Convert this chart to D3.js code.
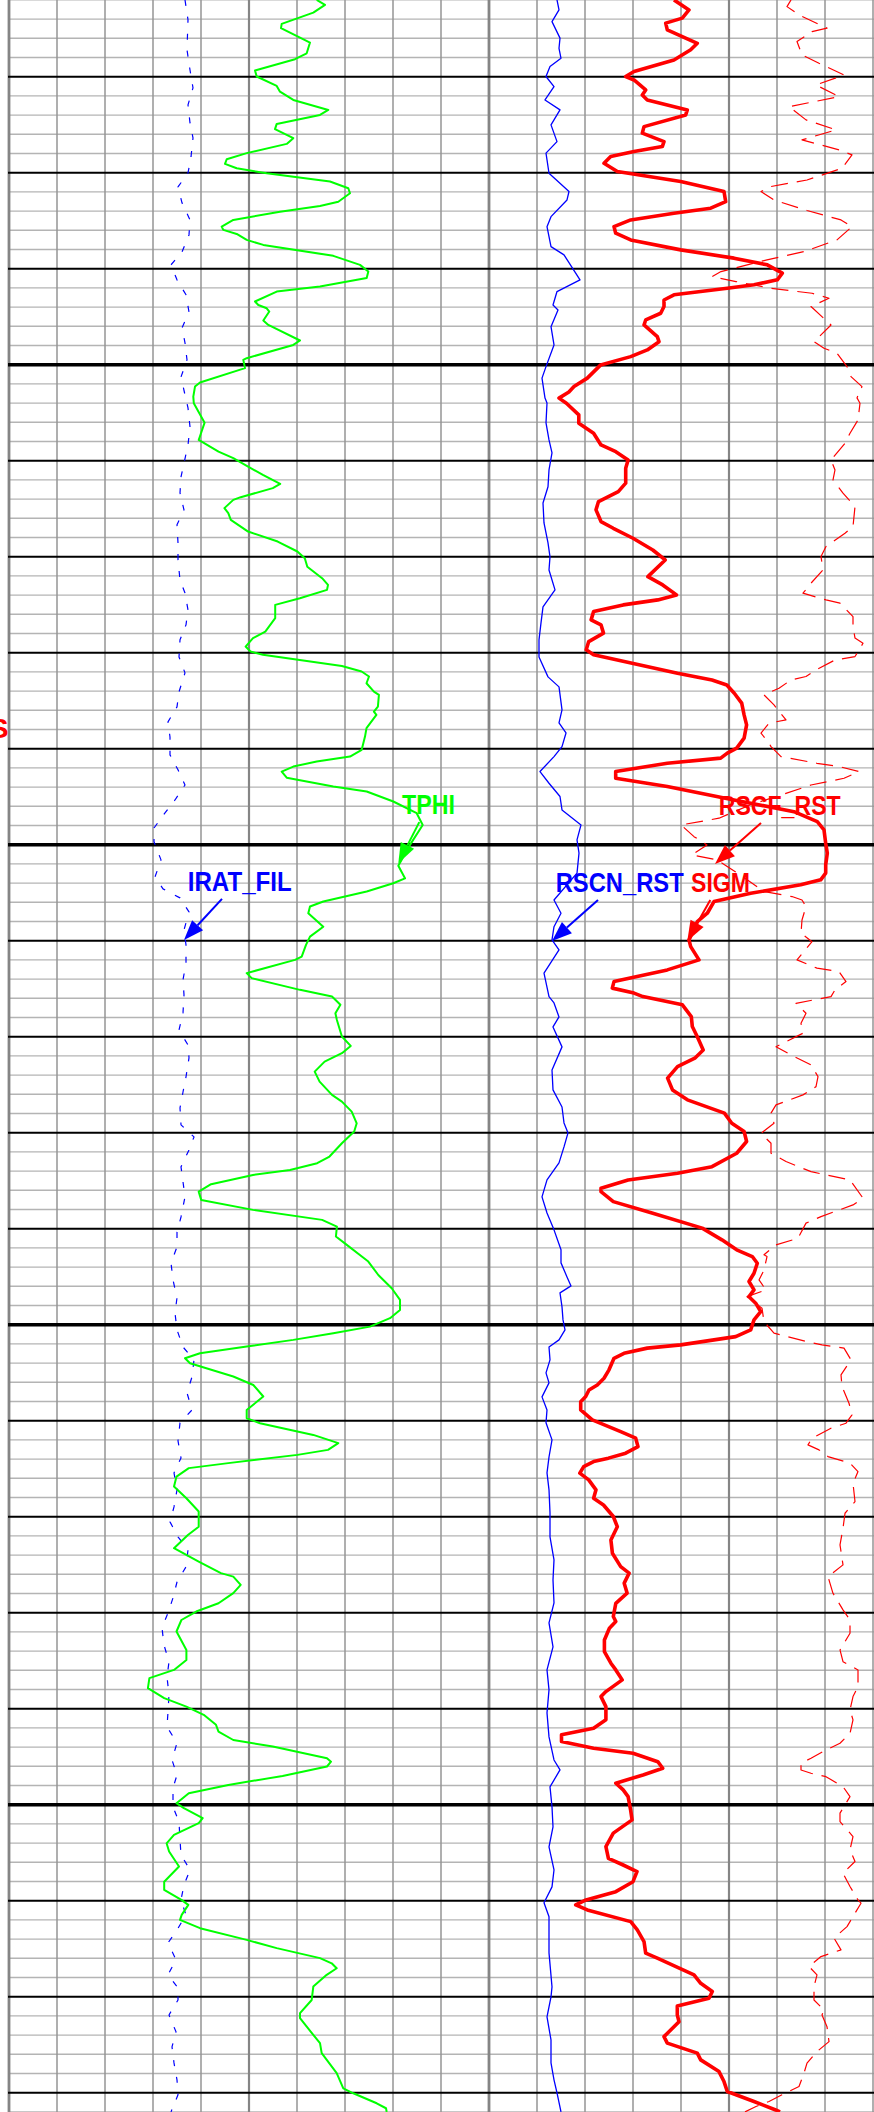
<!DOCTYPE html>
<html><head><meta charset="utf-8">
<script src="https://cdn.jsdelivr.net/npm/d3@7"></script>
<style>html,body{margin:0;padding:0;background:#fff;}svg{display:block;}</style>
</head><body>
<script>
// ---------- data ----------
const DEPTH_TOP = 2106, DEPTH_BOTTOM = 2216;
const LEFT_DIVS = d3.range(0, 11);   // grid divisions, left track
const RIGHT_DIVS = d3.range(0, 11);  // grid divisions, right track

// TPHI (p.u.), left track 0..48
const tphi = [[2106.00,30.77],[2106.26,31.60],[2106.66,30.43],[2107.25,27.27],[2107.47,27.20],[2108.22,30.10],[2108.78,29.77],[2109.09,28.60],[2109.68,24.60],[2109.99,24.77],[2110.48,26.77],[2110.78,27.10],[2111.21,28.43],[2111.73,31.93],[2111.99,31.10],[2112.46,26.77],[2112.73,26.60],[2113.20,28.43],[2113.50,27.77],[2113.98,23.77],[2114.30,21.77],[2114.54,21.60],[2114.77,22.77],[2115.03,25.77],[2115.46,32.10],[2115.81,33.93],[2116.07,34.10],[2116.51,32.93],[2116.73,31.10],[2117.03,27.10],[2117.46,22.43],[2117.81,21.27],[2117.98,21.43],[2118.19,22.77],[2118.50,23.77],[2118.76,25.43],[2119.33,32.43],[2119.80,35.10],[2120.15,35.93],[2120.49,35.77],[2120.93,31.10],[2121.19,26.77],[2121.71,24.60],[2121.89,24.93],[2122.06,25.77],[2122.23,26.03],[2122.70,25.43],[2122.93,25.93],[2123.74,29.10],[2123.97,28.43],[2124.66,23.77],[2124.75,23.43],[2125.18,23.60],[2125.93,19.10],[2126.14,18.60],[2126.66,18.43],[2127.01,18.48],[2128.02,19.56],[2128.92,18.97],[2129.53,20.95],[2129.87,22.43],[2130.31,23.91],[2130.74,25.39],[2131.21,27.12],[2131.43,26.38],[2131.90,23.17],[2132.04,22.43],[2132.47,21.54],[2132.73,21.93],[2133.08,22.18],[2133.69,23.91],[2134.21,26.87],[2134.73,28.84],[2135.08,29.58],[2135.52,29.83],[2136.12,31.31],[2136.47,31.90],[2136.73,31.80],[2137.16,29.09],[2137.51,26.62],[2138.20,26.62],[2138.90,25.63],[2139.24,24.40],[2139.68,23.66],[2139.94,24.15],[2140.11,25.39],[2140.69,33.29],[2140.98,35.26],[2141.24,36.00],[2141.59,35.75],[2142.03,36.49],[2142.20,36.99],[2142.81,36.89],[2143.07,36.49],[2143.24,36.74],[2143.93,35.75],[2144.37,35.60],[2145.06,35.27],[2145.41,34.10],[2145.67,30.77],[2145.93,28.43],[2146.19,27.27],[2146.51,27.77],[2146.97,32.43],[2147.23,35.77],[2147.75,38.43],[2148.36,40.77],[2148.97,41.37],[2150.01,40.10],[2151.10,38.93],[2151.75,39.60],[2152.01,38.43],[2152.44,35.77],[2152.96,31.43],[2153.22,30.10],[2153.57,29.93],[2154.27,31.43],[2154.79,30.10],[2155.22,29.70],[2155.83,29.27],[2156.00,28.60],[2156.69,23.77],[2156.95,24.27],[2157.56,29.10],[2157.91,32.30],[2158.34,33.14],[2158.78,32.64],[2159.13,32.79],[2159.99,33.29],[2160.48,34.17],[2160.86,33.29],[2161.30,31.56],[2161.82,30.57],[2162.34,31.06],[2163.03,32.30],[2163.38,33.29],[2163.90,34.27],[2164.51,34.77],[2164.94,34.52],[2165.55,33.29],[2166.24,32.05],[2166.59,30.82],[2166.94,28.10],[2167.20,24.40],[2167.68,20.21],[2168.07,18.97],[2168.50,19.22],[2169.02,24.40],[2169.54,31.31],[2169.89,32.79],[2170.41,32.69],[2170.84,33.78],[2171.54,35.51],[2171.71,35.93],[2172.41,36.93],[2173.10,38.27],[2173.71,39.10],[2174.23,39.10],[2174.66,38.10],[2175.10,36.10],[2175.44,32.43],[2175.79,28.43],[2176.14,23.77],[2176.49,19.10],[2176.75,17.60],[2177.01,18.10],[2177.70,22.43],[2178.14,24.43],[2178.74,25.43],[2179.44,23.77],[2179.87,23.77],[2180.13,25.10],[2180.74,30.43],[2181.17,32.93],[2181.52,31.90],[2181.78,28.84],[2182.21,21.93],[2182.47,17.98],[2182.91,16.75],[2183.43,16.50],[2184.04,17.74],[2184.73,18.97],[2185.52,18.97],[2185.95,17.89],[2186.64,16.50],[2187.34,18.97],[2187.94,21.19],[2188.12,22.43],[2188.55,23.17],[2188.98,22.43],[2189.51,20.95],[2189.94,18.72],[2190.38,17.24],[2190.98,16.75],[2191.94,17.74],[2192.46,17.74],[2192.98,16.50],[2193.41,14.04],[2193.93,13.89],[2194.45,15.52],[2194.89,17.74],[2195.32,19.47],[2195.84,20.70],[2196.19,20.95],[2196.63,22.43],[2196.97,26.38],[2197.58,31.80],[2197.76,32.20],[2198.01,31.80],[2198.50,27.36],[2198.97,21.93],[2199.40,17.98],[2199.92,16.75],[2200.18,17.49],[2200.70,19.37],[2200.96,18.97],[2201.57,16.50],[2202.01,15.76],[2202.44,16.01],[2203.22,17.00],[2204.01,15.52],[2204.44,15.52],[2204.96,17.24],[2205.22,17.93],[2205.74,17.27],[2206.00,17.10],[2206.43,19.10],[2207.04,23.77],[2207.47,26.77],[2207.99,31.10],[2208.26,32.27],[2208.52,32.77],[2208.86,31.77],[2209.47,30.43],[2210.17,30.27],[2210.86,29.10],[2211.12,29.10],[2211.99,30.43],[2212.42,31.10],[2212.94,31.27],[2213.98,32.77],[2214.77,33.43],[2215.03,34.43],[2215.55,36.77],[2215.81,37.70],[2216.00,37.77]];

// IRAT_FIL (ratio), left track 0..4.8
const iratFil = [[2106.00,1.76],[2107.04,1.79],[2108.60,1.78],[2109.65,1.81],[2110.58,1.84],[2111.47,1.79],[2112.41,1.81],[2113.19,1.84],[2114.18,1.82],[2115.01,1.79],[2115.74,1.69],[2116.57,1.73],[2117.46,1.81],[2118.24,1.80],[2119.13,1.73],[2119.80,1.62],[2120.58,1.68],[2121.36,1.77],[2122.25,1.80],[2123.08,1.73],[2123.86,1.76],[2124.75,1.78],[2125.64,1.72],[2126.57,1.76],[2127.25,1.79],[2128.24,1.81],[2129.18,1.79],[2130.84,1.72],[2131.68,1.71],[2132.56,1.75],[2133.34,1.68],[2134.28,1.69],[2135.17,1.69],[2136.21,1.71],[2136.89,1.76],[2137.77,1.79],[2138.55,1.77],[2139.33,1.71],[2140.22,1.70],[2141.05,1.76],[2142.04,1.70],[2142.82,1.68],[2143.60,1.59],[2144.39,1.61],[2145.32,1.61],[2146.10,1.69],[2146.89,1.76],[2147.67,1.66],[2148.34,1.56],[2149.13,1.45],[2149.85,1.45],[2150.79,1.52],[2151.68,1.46],[2152.30,1.54],[2152.77,1.71],[2153.50,1.80],[2154.44,1.75],[2155.22,1.77],[2156.16,1.77],[2157.04,1.74],[2157.82,1.75],[2158.76,1.74],[2159.65,1.70],[2160.43,1.79],[2161.10,1.80],[2162.09,1.77],[2162.88,1.74],[2163.71,1.71],[2164.59,1.72],[2165.22,1.85],[2165.90,1.80],[2166.78,1.72],[2167.56,1.74],[2168.34,1.76],[2169.39,1.72],[2170.17,1.68],[2170.95,1.68],[2171.78,1.62],[2172.67,1.64],[2173.60,1.68],[2174.39,1.66],[2175.27,1.68],[2176.16,1.74],[2176.83,1.85],[2177.72,1.83],[2178.55,1.78],[2179.44,1.83],[2180.11,1.71],[2181.05,1.69],[2181.94,1.72],[2182.72,1.65],[2183.60,1.68],[2184.49,1.65],[2185.27,1.61],[2186.05,1.69],[2186.73,1.79],[2187.61,1.77],[2188.40,1.68],[2189.23,1.64],[2190.01,1.59],[2190.79,1.53],[2191.68,1.55],[2192.56,1.60],[2193.34,1.58],[2194.28,1.60],[2195.17,1.59],[2195.95,1.58],[2196.78,1.68],[2197.67,1.63],[2198.45,1.68],[2199.13,1.64],[2200.11,1.64],[2200.90,1.70],[2201.83,1.71],[2202.61,1.72],[2203.40,1.81],[2204.18,1.75],[2204.96,1.72],[2205.74,1.77],[2206.52,1.68],[2207.20,1.59],[2208.08,1.67],[2208.86,1.59],[2209.54,1.69],[2210.17,1.69],[2210.95,1.60],[2211.83,1.67],[2212.61,1.63],[2213.45,1.65],[2214.33,1.68],[2215.11,1.69],[2216.00,1.62]];

// RSCN_RST (kHz), right track 0..4.8
const rscnRst = [[2106.00,0.68],[2106.52,0.70],[2107.13,0.63],[2107.99,0.71],[2108.52,0.70],[2109.04,0.72],[2109.47,0.61],[2109.99,0.57],[2110.52,0.65],[2111.21,0.56],[2111.73,0.71],[2112.51,0.62],[2113.38,0.68],[2113.98,0.57],[2115.03,0.60],[2115.98,0.80],[2116.42,0.78],[2117.29,0.62],[2117.81,0.58],[2118.85,0.62],[2119.28,0.75],[2120.58,0.91],[2121.19,0.68],[2121.89,0.64],[2122.15,0.69],[2123.02,0.62],[2123.97,0.65],[2125.10,0.57],[2125.70,0.53],[2126.74,0.56],[2126.99,0.58],[2128.03,0.57],[2128.92,0.60],[2129.59,0.63],[2130.48,0.60],[2131.36,0.59],[2132.20,0.54],[2133.24,0.55],[2134.28,0.59],[2135.01,0.61],[2135.69,0.60],[2136.73,0.66],[2137.61,0.54],[2138.45,0.52],[2139.33,0.50],[2140.22,0.50],[2141.26,0.59],[2141.78,0.70],[2142.98,0.73],[2143.66,0.70],[2144.18,0.77],[2144.89,0.73],[2145.41,0.65],[2146.19,0.51],[2146.80,0.60],[2147.49,0.71],[2148.19,0.73],[2148.97,0.92],[2149.75,0.88],[2150.44,0.90],[2151.48,0.88],[2152.88,0.65],[2153.57,0.72],[2154.27,0.65],[2154.96,0.63],[2155.48,0.70],[2156.69,0.55],[2157.91,0.60],[2158.24,0.65],[2158.97,0.70],[2159.49,0.64],[2160.53,0.73],[2161.73,0.63],[2162.77,0.64],[2163.66,0.73],[2164.49,0.75],[2165.01,0.79],[2165.74,0.75],[2166.57,0.70],[2167.46,0.58],[2168.34,0.53],[2169.18,0.58],[2170.06,0.65],[2171.10,0.72],[2171.78,0.72],[2172.51,0.78],[2172.98,0.82],[2173.34,0.71],[2174.07,0.73],[2174.75,0.74],[2175.27,0.76],[2175.79,0.70],[2176.16,0.60],[2176.83,0.61],[2177.51,0.57],[2178.03,0.60],[2178.76,0.53],[2179.44,0.58],[2180.11,0.57],[2181.00,0.63],[2181.89,0.60],[2182.72,0.58],[2183.60,0.60],[2184.80,0.61],[2186.05,0.61],[2187.25,0.65],[2188.29,0.64],[2189.49,0.65],[2190.53,0.60],[2191.78,0.64],[2192.98,0.58],[2194.02,0.60],[2195.22,0.58],[2196.47,0.60],[2197.67,0.65],[2198.19,0.71],[2199.07,0.61],[2200.11,0.63],[2201.16,0.64],[2202.20,0.60],[2203.40,0.65],[2204.28,0.63],[2205.11,0.55],[2205.84,0.60],[2206.68,0.60],[2207.72,0.60],[2209.49,0.63],[2210.01,0.62],[2211.05,0.58],[2212.25,0.62],[2213.45,0.62],[2214.33,0.65],[2215.01,0.68],[2216.00,0.72]];

// SIGM (c.u.), right track 0..48
const sigm = [[2106.00,18.50],[2106.52,20.00],[2106.95,19.33],[2107.21,17.67],[2107.56,17.83],[2107.91,19.33],[2108.26,20.83],[2108.60,20.17],[2109.13,18.50],[2109.73,14.50],[2109.99,13.67],[2110.17,14.50],[2110.69,15.67],[2110.95,15.33],[2111.21,15.83],[2111.73,19.83],[2111.99,19.67],[2112.60,15.50],[2112.94,15.33],[2113.38,17.50],[2113.64,17.33],[2113.90,14.50],[2114.16,12.17],[2114.51,11.50],[2114.94,12.83],[2115.46,19.17],[2115.98,23.50],[2116.51,23.67],[2116.85,22.17],[2117.11,18.50],[2117.46,14.17],[2117.81,12.50],[2118.15,12.67],[2118.50,14.17],[2119.02,19.17],[2119.45,24.50],[2119.80,27.83],[2120.23,29.33],[2120.58,28.83],[2120.84,26.50],[2121.02,23.83],[2121.36,18.50],[2121.63,17.50],[2121.97,17.50],[2122.32,17.17],[2122.67,15.67],[2122.93,15.50],[2123.54,16.83],[2123.80,17.00],[2124.23,15.83],[2124.58,14.17],[2125.01,11.17],[2125.70,9.83],[2126.14,8.50],[2126.42,7.99],[2126.74,7.00],[2127.01,7.74],[2127.61,8.98],[2128.05,8.98],[2128.57,10.46],[2129.18,11.20],[2129.53,12.68],[2129.96,13.91],[2130.39,13.67],[2131.17,13.67],[2131.61,12.93],[2132.13,10.95],[2132.56,10.70],[2133.17,11.20],[2133.52,12.43],[2134.04,14.40],[2134.65,16.38],[2135.17,17.62],[2136.04,15.89],[2136.47,17.37],[2136.99,18.75],[2137.25,16.88],[2137.51,13.42],[2137.86,10.46],[2138.29,10.21],[2138.55,11.20],[2138.98,11.45],[2139.42,9.97],[2139.85,9.72],[2140.11,10.46],[2141.07,18.85],[2141.42,22.30],[2141.68,23.78],[2142.11,24.53],[2142.63,25.27],[2143.24,25.51],[2143.76,25.76],[2144.45,25.51],[2144.97,24.77],[2145.23,23.83],[2145.49,23.17],[2145.76,17.83],[2146.19,12.67],[2146.54,12.67],[2146.97,17.83],[2147.67,24.50],[2148.28,30.50],[2148.80,32.83],[2149.23,33.50],[2149.92,33.67],[2150.44,33.83],[2151.05,33.67],[2151.48,33.67],[2151.83,33.17],[2152.09,31.17],[2152.53,26.17],[2152.96,22.50],[2153.57,21.83],[2154.01,20.83],[2154.96,20.00],[2155.31,20.17],[2156.00,21.00],[2156.52,17.83],[2157.13,12.50],[2157.47,12.33],[2157.73,14.50],[2157.91,15.39],[2158.34,19.34],[2158.95,20.23],[2159.47,20.33],[2159.99,20.82],[2160.69,21.42],[2161.12,20.58],[2161.56,18.85],[2162.16,17.86],[2162.77,18.35],[2163.29,19.84],[2163.98,23.54],[2164.51,24.28],[2164.94,25.51],[2165.46,25.76],[2166.07,24.77],[2166.77,22.30],[2167.11,18.85],[2167.46,13.91],[2167.89,11.20],[2168.07,11.20],[2168.59,12.43],[2169.19,16.38],[2169.97,21.32],[2170.58,23.29],[2171.10,24.77],[2171.45,26.33],[2171.80,26.83],[2172.32,26.50],[2172.75,26.00],[2173.19,26.50],[2173.54,26.00],[2173.88,26.67],[2174.32,27.17],[2174.75,26.50],[2175.27,26.17],[2175.62,24.67],[2176.05,19.17],[2176.22,15.83],[2176.49,13.50],[2176.75,12.50],[2177.35,12.00],[2177.79,11.50],[2178.14,10.83],[2178.40,10.00],[2178.74,9.67],[2179.01,9.17],[2179.44,9.17],[2179.96,10.33],[2180.57,13.17],[2180.91,14.67],[2181.35,14.90],[2181.69,13.67],[2181.95,11.94],[2182.13,10.46],[2182.39,9.47],[2182.73,9.08],[2183.08,9.97],[2183.60,10.70],[2184.04,10.46],[2184.39,11.45],[2184.99,12.43],[2185.52,12.83],[2186.21,12.19],[2186.90,12.34],[2187.60,13.17],[2187.94,14.01],[2188.46,13.52],[2188.98,13.81],[2189.51,12.68],[2190.20,12.43],[2190.46,12.68],[2190.81,12.04],[2191.42,11.54],[2192.03,11.54],[2192.63,12.19],[2192.98,12.68],[2193.50,13.32],[2194.11,11.69],[2194.37,11.20],[2194.89,11.69],[2195.58,11.69],[2196.02,10.46],[2196.36,7.25],[2196.71,7.25],[2197.06,10.46],[2197.32,14.40],[2197.76,16.88],[2198.10,17.37],[2198.45,15.40],[2198.88,12.68],[2199.23,13.42],[2199.58,13.91],[2200.27,14.16],[2200.79,14.31],[2201.48,12.43],[2202.18,11.69],[2202.79,11.94],[2203.14,13.42],[2203.48,14.80],[2204.01,14.40],[2204.53,12.68],[2204.96,9.70],[2205.22,8.67],[2205.48,9.83],[2206.09,14.17],[2206.52,14.83],[2207.13,15.50],[2207.73,15.67],[2207.99,16.83],[2208.86,20.50],[2209.30,21.17],[2209.73,22.33],[2210.08,22.00],[2210.48,18.83],[2210.95,18.83],[2211.30,19.00],[2212.08,17.50],[2212.42,17.83],[2212.94,20.83],[2213.29,21.17],[2213.90,23.00],[2214.42,23.50],[2214.94,23.83],[2215.46,26.50],[2215.90,28.67],[2216.00,29.10]];

// RSCF_RST (kHz), right track 0..4.8
const rscfRst = [[2106.00,3.02],[2106.35,2.98],[2106.78,3.10],[2107.47,3.38],[2107.65,3.23],[2108.17,3.08],[2108.86,3.13],[2109.30,3.30],[2109.91,3.55],[2110.43,3.27],[2111.04,3.50],[2111.56,3.00],[2112.25,3.17],[2112.77,3.47],[2113.29,3.13],[2113.81,3.50],[2114.07,3.63],[2114.77,3.53],[2115.38,3.18],[2115.72,2.82],[2115.98,2.72],[2116.42,2.85],[2116.97,3.18],[2117.46,3.52],[2117.81,3.63],[2118.50,3.48],[2119.11,3.15],[2119.54,2.78],[2120.15,2.32],[2120.41,2.23],[2120.67,2.47],[2121.02,2.82],[2121.28,3.23],[2121.54,3.40],[2121.97,3.22],[2122.93,3.42],[2123.80,3.25],[2124.14,3.35],[2124.40,3.48],[2125.10,3.58],[2125.62,3.62],[2126.14,3.73],[2126.73,3.68],[2127.01,3.71],[2127.88,3.69],[2128.57,3.61],[2129.09,3.56],[2129.96,3.42],[2130.48,3.46],[2131.00,3.44],[2131.69,3.54],[2132.39,3.66],[2133.43,3.64],[2133.78,3.56],[2134.47,3.37],[2134.99,3.32],[2135.69,3.34],[2136.38,3.22],[2136.90,3.14],[2137.25,3.37],[2137.42,3.51],[2138.12,3.64],[2138.64,3.64],[2139.24,3.66],[2139.51,3.74],[2140.20,3.66],[2140.38,3.46],[2140.90,3.27],[2141.24,3.17],[2141.42,3.02],[2141.85,2.90],[2142.20,2.75],[2142.72,2.85],[2143.50,2.97],[2143.67,2.80],[2144.19,2.72],[2144.71,2.80],[2144.89,2.82],[2145.41,2.92],[2145.76,3.28],[2145.93,3.50],[2146.19,3.70],[2146.54,3.55],[2146.89,3.22],[2147.41,2.92],[2147.93,2.61],[2148.62,2.30],[2148.97,1.92],[2149.58,2.05],[2150.01,2.18],[2150.53,2.03],[2150.79,2.28],[2151.57,2.51],[2152.44,2.75],[2152.70,3.03],[2152.88,3.13],[2153.22,3.17],[2153.92,3.13],[2154.61,3.12],[2155.05,3.23],[2156.00,3.08],[2156.43,3.28],[2156.61,3.50],[2157.13,3.57],[2157.56,3.46],[2157.91,3.42],[2158.26,3.07],[2158.78,3.17],[2159.30,3.12],[2159.82,3.14],[2160.52,2.87],[2160.95,3.02],[2161.47,3.22],[2162.08,3.29],[2162.60,3.27],[2163.03,3.14],[2163.55,2.87],[2163.98,2.82],[2164.51,2.85],[2165.03,2.72],[2165.55,2.82],[2166.07,2.82],[2166.50,2.97],[2167.03,3.22],[2167.46,3.61],[2168.41,3.74],[2168.76,3.64],[2169.37,3.32],[2169.71,3.17],[2170.50,3.09],[2170.84,2.87],[2171.36,2.75],[2171.45,2.78],[2172.15,2.75],[2172.67,2.70],[2173.19,2.77],[2173.54,2.58],[2174.14,2.73],[2174.84,2.75],[2175.44,2.85],[2175.62,2.98],[2175.88,3.18],[2176.05,3.33],[2176.22,3.55],[2176.83,3.62],[2177.61,3.52],[2178.22,3.53],[2179.09,3.60],[2179.70,3.63],[2180.13,3.57],[2180.39,3.42],[2180.91,3.23],[2181.26,3.19],[2181.52,3.30],[2181.87,3.39],[2182.21,3.61],[2182.65,3.69],[2183.26,3.64],[2184.21,3.66],[2184.82,3.56],[2185.60,3.54],[2186.47,3.51],[2187.51,3.54],[2188.12,3.39],[2188.99,3.44],[2189.85,3.54],[2190.38,3.61],[2191.07,3.61],[2191.94,3.51],[2192.55,3.54],[2192.98,3.69],[2193.85,3.69],[2194.37,3.64],[2195.06,3.61],[2195.58,3.64],[2196.28,3.61],[2196.80,3.51],[2197.15,3.37],[2197.58,3.22],[2197.84,3.12],[2198.19,3.12],[2198.36,3.22],[2198.54,3.37],[2199.06,3.54],[2199.58,3.61],[2200.44,3.51],[2200.88,3.51],[2201.66,3.64],[2202.35,3.61],[2202.96,3.66],[2203.57,3.54],[2204.26,3.61],[2204.96,3.69],[2205.13,3.72],[2205.74,3.65],[2206.35,3.58],[2206.95,3.45],[2207.56,3.52],[2207.91,3.32],[2208.43,3.20],[2208.86,3.28],[2209.47,3.25],[2210.17,3.25],[2210.69,3.35],[2210.95,3.33],[2211.56,3.38],[2212.34,3.40],[2212.86,3.28],[2213.46,3.18],[2213.98,3.15],[2214.68,3.10],[2215.11,2.93],[2215.46,2.80],[2215.72,2.67],[2216.00,2.56]];

// curve labels: name, curve, anchor depth, arrow dx, colour
const labelNames  = ["TPHI", "IRAT_FIL", "RSCN_RST", "SIGM", "RSCF_RST"];
const labelDepths = [2150.96, 2154.96, 2155.01, 2155.01, 2151.00];
const labelValues = [38.93, 1.75, 0.63, 19.83, 2.26];
const labelArrowDx = [21, 38, 46, 23, 46];
const labelWidths = [53, 104, 128, 59, 122];

// ---------- layout ----------
const W = 874, H = 2112;
const DIV = 48;
const LEFT = [9, 489], RIGHT = [489, 969];
const svg = d3.select("body").append("svg").attr("width", W).attr("height", H);

const y = d3.scaleLinear().domain([DEPTH_TOP, DEPTH_BOTTOM]).range([-0.1, 2111.9]);
const xTphi = d3.scaleLinear().domain([0, 48]).range(LEFT);
const xIrat = d3.scaleLinear().domain([0, 4.8]).range(LEFT);
const xSigm = d3.scaleLinear().domain([0, 48]).range(RIGHT);
const xRscn = d3.scaleLinear().domain([0, 4.8]).range(RIGHT);
const xRscf = d3.scaleLinear().domain([0, 4.8]).range(RIGHT);

svg.append("rect").attr("width", W).attr("height", H).attr("fill", "#fff");

// horizontal grid
const depths = d3.range(DEPTH_TOP, DEPTH_BOTTOM + 1);
const g = svg.append("g");
g.selectAll("line.thin").data(depths.filter(d => d % 5 !== 0)).join("line")
  .attr("x1", LEFT[0]).attr("x2", W).attr("y1", d => y(d)).attr("y2", d => y(d))
  .attr("stroke", "#b4b4b4").attr("stroke-width", 1.4);

// vertical grid
const vlines = [];
LEFT_DIVS.forEach(k => vlines.push({x: LEFT[0] + k * DIV, k}));
RIGHT_DIVS.slice(1).forEach(k => vlines.push({x: RIGHT[0] + k * DIV, k}));
g.selectAll("line.v").data(vlines).join("line")
  .attr("x1", d => d.x).attr("x2", d => d.x).attr("y1", 0).attr("y2", H)
  .attr("stroke", d => (d.k % 5 === 0) ? "#858585" : "#959595")
  .attr("stroke-width", d => (d.k === 0 || d.k === 10) ? 2.8 : (d.k === 5 ? 2.2 : 1.5));

// black depth lines
g.selectAll("line.major").data(depths.filter(d => d % 5 === 0)).join("line")
  .attr("x1", LEFT[0] - 1).attr("x2", W).attr("y1", d => y(d)).attr("y2", d => y(d))
  .attr("stroke", "#000").attr("stroke-width", d => d % 25 === 0 ? 3.6 : 2.1);

// curves
function drawCurve(data, xs, color, width, dash) {
  const line = d3.line().x(d => xs(d[1])).y(d => y(d[0]));
  const p = svg.append("path").datum(data).attr("d", line)
    .attr("fill", "none").attr("stroke", color).attr("stroke-width", width)
    .attr("stroke-linejoin", "round").attr("stroke-linecap", "butt");
  if (dash) p.attr("stroke-dasharray", dash);
}
drawCurve(iratFil, xIrat, "#0000ff", 1.2, "6,11");
drawCurve(tphi, xTphi, "#00ff00", 2, null);
drawCurve(rscfRst, xRscf, "#ff0000", 1.2, "17,9");
drawCurve(rscnRst, xRscn, "#0000ff", 1.3, null);
drawCurve(sigm, xSigm, "#ff0000", 3.6, null);

// labels with arrows
const labelColors = ["#00ff00", "#0000ff", "#0000ff", "#ff0000", "#ff0000"];
const labelScales = [xTphi, xIrat, xRscn, xSigm, xRscf];
labelNames.forEach((name, i) => {
  const tx = labelScales[i](labelValues[i]), ty = y(labelDepths[i]);
  const sx = tx + labelArrowDx[i], sy = ty - 41;
  const dx = tx - sx, dy = ty - sy, len = Math.hypot(dx, dy);
  const ux = dx / len, uy = dy / len, L = 20, hw = 7.5;
  const bx = tx - ux * L, by = ty - uy * L;
  const col = labelColors[i];
  svg.append("line").attr("x1", sx).attr("y1", sy).attr("x2", bx).attr("y2", by)
    .attr("stroke", col).attr("stroke-width", 2);
  svg.append("polygon")
    .attr("points", [[tx, ty], [bx - uy * hw, by + ux * hw], [bx + uy * hw, by - ux * hw]].map(p => p.join(",")).join(" "))
    .attr("fill", col);
  svg.append("text").attr("x", tx + 3.7).attr("y", ty - 49)
    .attr("font-family", "'Liberation Sans Narrow', 'Arial Narrow', 'Liberation Sans', Arial, sans-serif")
    .attr("font-weight", "bold").attr("font-size", 28.5).attr("fill", col)
    .attr("textLength", labelWidths[i]).attr("lengthAdjust", "spacingAndGlyphs")
    .text(name);
});

// cut-off title fragment at the left edge
svg.append("text").attr("x", 8.5).attr("y", 738).attr("text-anchor", "end")
  .attr("font-family", "'Liberation Sans Narrow', 'Arial Narrow', 'Liberation Sans', Arial, sans-serif")
  .attr("font-weight", "bold").attr("font-size", 28.5).attr("fill", "#ff0000").text("S");
</script>
</body></html>
